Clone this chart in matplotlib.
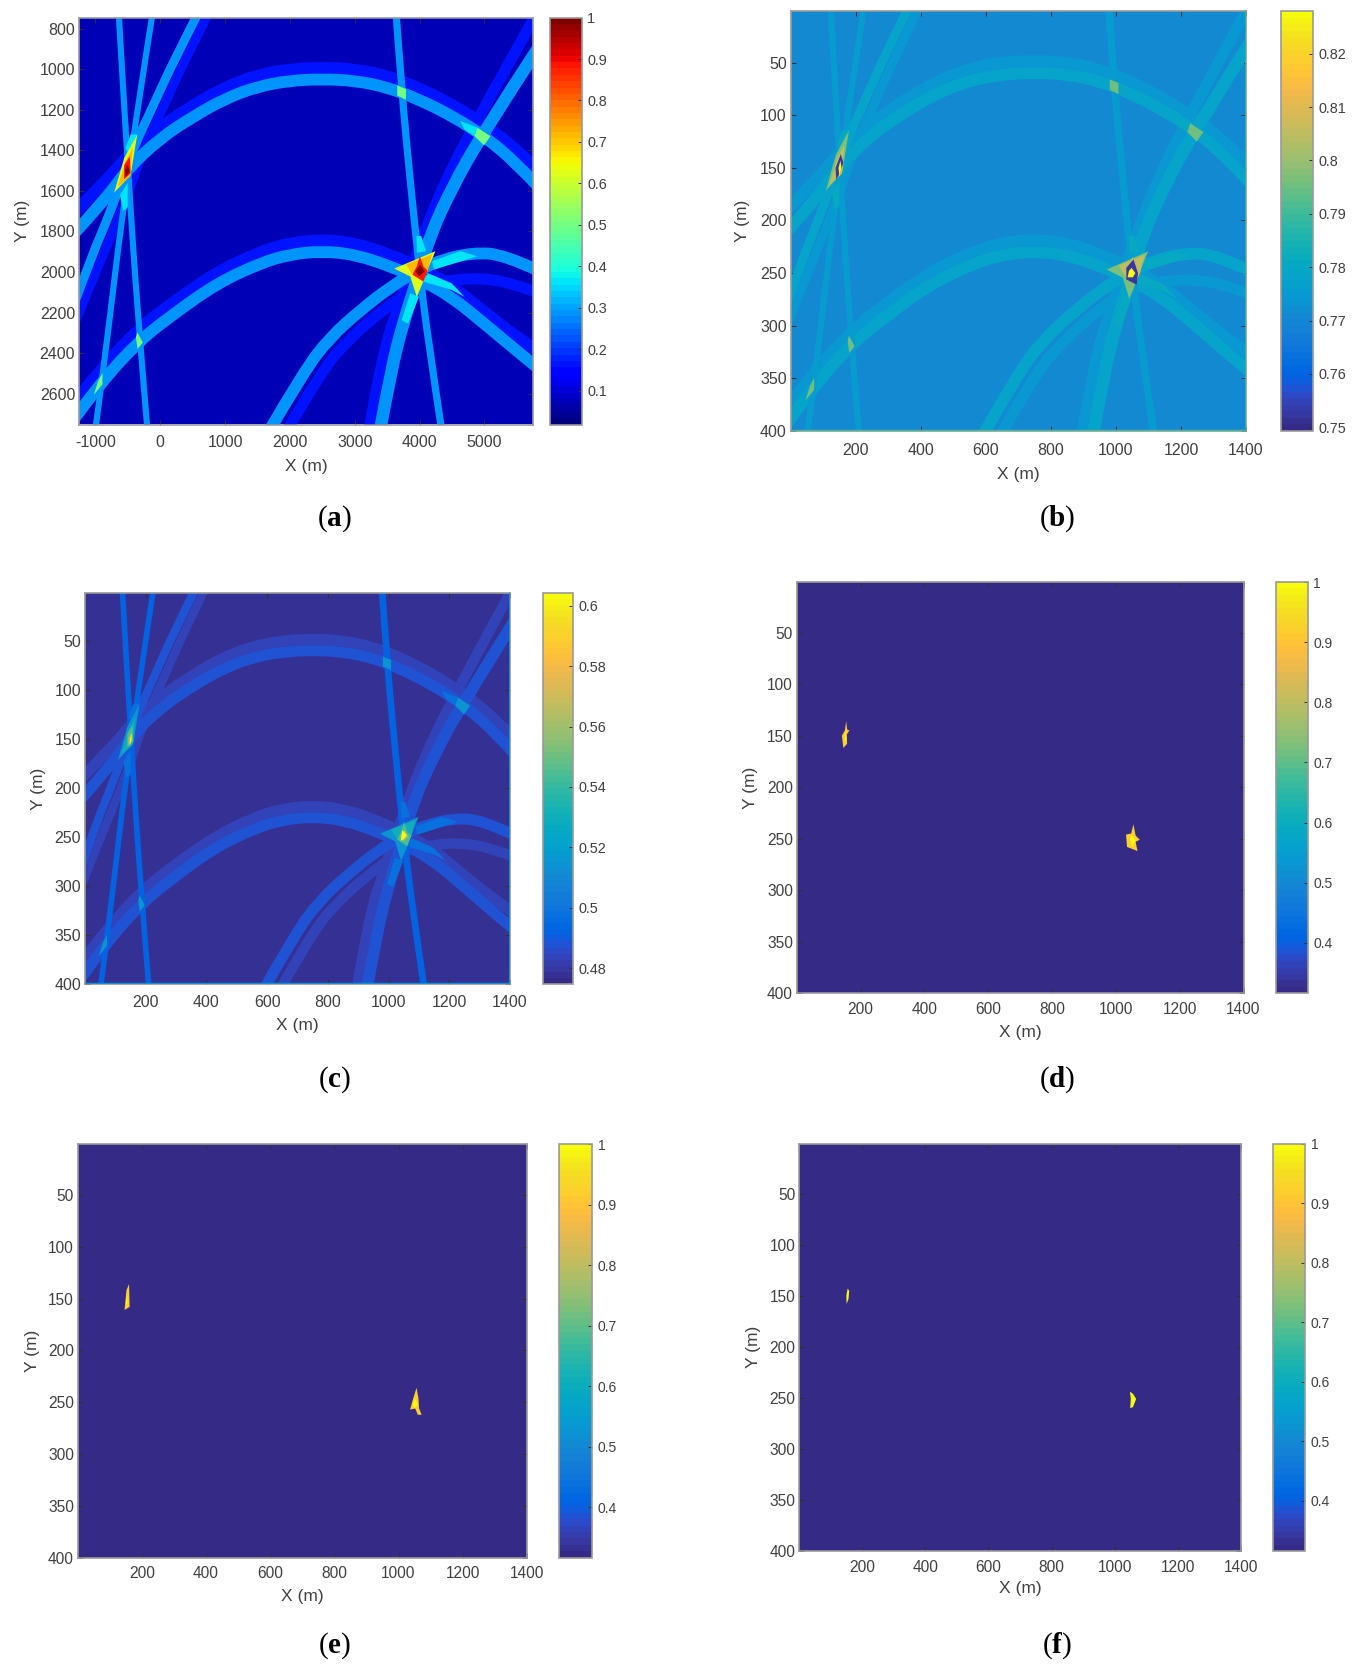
import numpy as np
import matplotlib
matplotlib.use("Agg")
import matplotlib.pyplot as plt
from matplotlib.colors import ListedColormap, Normalize
from matplotlib.path import Path
from matplotlib.patches import PathPatch

plt.rcParams['font.family'] = ['Liberation Sans', 'DejaVu Sans']
plt.rcParams['mathtext.fontset'] = 'custom'
plt.rcParams['mathtext.rm'] = 'Liberation Serif'
plt.rcParams['mathtext.bf'] = 'Liberation Serif:bold'

W, H = 1357, 1675

PARULA = ListedColormap([
    [0.2081,0.1663,0.5292],[0.2116,0.1898,0.5777],[0.2123,0.2138,0.6270],[0.2081,0.2386,0.6771],
    [0.1959,0.2645,0.7279],[0.1707,0.2919,0.7792],[0.1253,0.3242,0.8303],[0.0591,0.3598,0.8683],
    [0.0117,0.3875,0.8820],[0.0060,0.4086,0.8828],[0.0165,0.4266,0.8786],[0.0329,0.4430,0.8720],
    [0.0498,0.4586,0.8641],[0.0629,0.4737,0.8554],[0.0723,0.4887,0.8467],[0.0779,0.5040,0.8384],
    [0.0793,0.5200,0.8312],[0.0749,0.5375,0.8263],[0.0641,0.5570,0.8240],[0.0488,0.5772,0.8228],
    [0.0343,0.5966,0.8199],[0.0265,0.6137,0.8135],[0.0239,0.6287,0.8038],[0.0231,0.6418,0.7913],
    [0.0228,0.6535,0.7768],[0.0267,0.6642,0.7607],[0.0384,0.6743,0.7436],[0.0590,0.6838,0.7254],
    [0.0843,0.6928,0.7062],[0.1133,0.7015,0.6859],[0.1453,0.7098,0.6646],[0.1801,0.7177,0.6424],
    [0.2178,0.7250,0.6193],[0.2586,0.7317,0.5954],[0.3022,0.7376,0.5712],[0.3482,0.7424,0.5473],
    [0.3953,0.7459,0.5244],[0.4420,0.7481,0.5033],[0.4871,0.7491,0.4840],[0.5300,0.7491,0.4661],
    [0.5709,0.7485,0.4494],[0.6099,0.7473,0.4337],[0.6473,0.7456,0.4188],[0.6834,0.7435,0.4044],
    [0.7184,0.7411,0.3905],[0.7525,0.7384,0.3768],[0.7858,0.7356,0.3633],[0.8185,0.7327,0.3498],
    [0.8507,0.7299,0.3360],[0.8824,0.7274,0.3217],[0.9139,0.7258,0.3063],[0.9450,0.7261,0.2886],
    [0.9739,0.7314,0.2666],[0.9938,0.7455,0.2403],[0.9990,0.7653,0.2164],[0.9955,0.7861,0.1967],
    [0.9880,0.8066,0.1794],[0.9789,0.8271,0.1633],[0.9697,0.8481,0.1475],[0.9626,0.8705,0.1309],
    [0.9589,0.8949,0.1132],[0.9598,0.9218,0.0948],[0.9661,0.9514,0.0755],[0.9763,0.9831,0.0538]])
JET = plt.get_cmap('jet', 64)

# band centre lines, in metres (x, y); ends run past the frame
UPPER_ARC = [(-1340,1815),(-800,1625),(-500,1490),(0,1340),(500,1235),(1000,1145),(1500,1085),(2000,1056),
             (2500,1048),(3000,1056),(3500,1088),(4000,1150),(4500,1230),(5000,1330),(5500,1465),(5850,1585)]
UPPER_ARC_DIM = [(-1340,1710),(-800,1540),(-500,1425),(0,1285),(500,1178),(1000,1088),(1500,1028),(2000,999),
                 (2500,991),(3000,999),(3500,1031),(4000,1093),(4500,1173),(5000,1273),(5500,1395),(5850,1505)]
LOWER_ARC = [(-1340,2730),(-922,2547),(-320,2338),(214,2205),(882,2055),(1551,1955),(2000,1913),(2487,1897),
             (3000,1913),(3556,1972),(4000,2035),(4492,2122),(5000,2255),(5495,2388),(5850,2480)]
LOWER_ARC_DIM = [(-1340,2650),(-922,2480),(-320,2275),(214,2145),(882,1998),(1551,1898),(2000,1856),(2487,1840),
                 (3000,1856),(3556,1915),(4000,1978),(4492,2065),(5000,2198),(5495,2320),(5850,2395)]
LEFT_CURVE = [(640,690),(214,955),(-120,1188),(-388,1372),(-520,1488),(-790,1722),(-1056,1922),(-1340,2170)]
LEFT_CURVE_DIM = [(800,690),(381,955),(47,1188),(-221,1372),(-354,1488),(-622,1722),(-889,1922),(-1340,2270)]
RIGHT_CURVE = [(5850,885),(4960,1322),(4492,1588),(4158,1822),(3997,2005),(3757,2238),(3556,2488),(3380,2800)]
RIGHT_CURVE_DIM = [(5850,700),(4960,1205),(4358,1572),(3957,1905),(3690,2155),(3422,2405),(3210,2800)]
BIG_ARC = [(1650,2800),(2219,2488),(2620,2322),(3088,2188),(3556,2072),(3997,1988),(4358,1938),(4826,1905),(5294,1913),(5850,1995)]
BIG_ARC_DIM = [(1920,2800),(2487,2488),(2888,2338),(3422,2188),(3957,2072),(4492,2038),(4960,2030),(5428,2055),(5850,2105)]
LINE_1 = [(-645,690),(-501,1488),(-320,2320),(-190,2800)]
LINE_2 = [(-100,690),(-500,1488),(-890,2530),(-1010,2800)]
LINE_3 = [(3630,690),(3723,1105),(3857,1555),(3997,1988),(4124,2322),(4350,2800)]

MINOR_PATCHES = [
    [(4124,2005),(4492,2055),(4693,2122),(4492,2088),(4057,2047)],
    [(3857,2105),(3991,2122),(3824,2255),(3723,2238)],
    [(3950,1822),(4024,1822),(4100,1897),(3960,1905)],
    [(-620,1620),(-500,1560),(-500,1680),(-570,1700)],
    [(-455,1322),(-354,1322),(-455,1438),(-535,1388)],
    [(4626,1255),(4893,1288),(4846,1330),(4693,1297)],
    [(4191,1947),(4626,1897),(4893,1922),(4225,1988)],
]
SECOND_PATCHES = [
    [(4893,1288),(5094,1330),(4993,1375),(4846,1330)],
    [(3656,1080),(3790,1097),(3790,1150),(3656,1130)],
    [(-354,2297),(-267,2347),(-348,2380),(-374,2322)],
    [(-889,2497),(-889,2555),(-1023,2605),(-956,2538)],
]
RIGHT_HOT = [
    [(3610,1983),(4245,1897),(4124,1988),(4057,2047),(3957,2122),(3857,2022)],
    [(3790,1963),(4191,1913),(4124,1997),(4057,2038),(3890,2013)],
    [(4004,1922),(4057,1972),(4124,1993),(4057,2047),(3890,2013),(3957,1972)],
    [(4011,1963),(4077,1997),(3991,2022),(3937,1997)],
]
LEFT_HOT = [
    [(-354,1322),(-455,1522),(-709,1608),(-555,1438)],
    [(-421,1388),(-468,1530),(-655,1580),(-535,1455)],
    [(-468,1430),(-455,1513),(-555,1543),(-555,1472)],
    [(-501,1472),(-468,1505),(-535,1530),(-541,1497)],
]

# values: background, dim band, bright band, thin line, overlap, crossing, then 4 hot levels
LEVELS_A = [0.065, 0.17, 0.29, 0.28, 0.37, 0.50, 0.62, 0.72, 0.88, 1.00]
LEVELS_B = [0.771, 0.7745, 0.778, 0.776, 0.781, 0.795, 0.797, 0.805, 0.808, 0.81]
LEVELS_C = [0.477, 0.484, 0.488, 0.491, 0.498, 0.515, 0.515, 0.53, 0.545, 0.56]
BG_DEF = 0.318

# blobs in grid cells (x 1..1400, y 1..400)
B_STAR_L = [(154,137),(162,145),(151,155),(140,161),(138,150)]
B_STAR_R = [(1054,237),(1068,250),(1064,261),(1032,256),(1032,245)]
B_CORE_L = [(153,143),(156,150),(150,158),(147,150)]
B_CORE_R = [(1048,245),(1060,250),(1052,254),(1036,254),(1040,248)]
C_CORE_L = [(155,143),(152,152),(146,158),(149,149)]
C_CORE_R = [(1040,254),(1045,243),(1060,248),(1050,252)]
D_BLOB_L = [(155,136),(158,144),(165,145),(157,149),(158,158),(146,162),(142,150),(151,145)]
D_BLOB_R = [(1055,236),(1062,247),(1075,251),(1062,253),(1068,262),(1035,258),(1032,246),(1048,245)]
D_CORE_L = [(154,146),(156,154),(150,156)]
D_CORE_R = [(1050,246),(1062,252),(1052,258),(1044,250)]
E_BLOB_L = [(160,136),(162,158),(146,161),(148,155),(152,142)]
E_BLOB_R = [(1056,236),(1062,246),(1064,256),(1072,262),(1060,262),(1052,256),(1036,257),(1046,246),(1052,240)]
E_CORE_L = [(153,146),(156,154),(150,156)]
E_CORE_R = [(1052,246),(1060,252),(1050,256),(1044,252)]
F_CORE_L = [(154,143),(159,145),(157,153),(151,158),(150,150)]
F_CORE_R = [(1048,244),(1058,246),(1068,251),(1058,259),(1049,260),(1051,251)]

X_TICKS_A = [-1000, 0, 1000, 2000, 3000, 4000, 5000]
Y_TICKS_A = [800, 1000, 1200, 1400, 1600, 1800, 2000, 2200, 2400, 2600]
X_TICKS = [200, 400, 600, 800, 1000, 1200, 1400]
Y_TICKS = [50, 100, 150, 200, 250, 300, 350, 400]
CB_TICKS_A = [0.1, 0.2, 0.3, 0.4, 0.5, 0.6, 0.7, 0.8, 0.9, 1]
CB_TICKS_B = [0.75, 0.76, 0.77, 0.78, 0.79, 0.8, 0.81, 0.82]
CB_TICKS_C = [0.48, 0.5, 0.52, 0.54, 0.56, 0.58, 0.6]
CB_TICKS_DEF = [0.4, 0.5, 0.6, 0.7, 0.8, 0.9, 1]
TEXT = '#404040'


def px_axes(fig, x0, x1, y0, y1):
    return fig.add_axes([x0 / W, 1 - y1 / H, (x1 - x0) / W, (y1 - y0) / H])


def to_grid(pts):
    return [((x + 1250) / 5, (y - 750) / 5) for x, y in pts]


def identity(pts):
    return pts


def curve(pts):
    # quadratic Bezier pieces through the midpoints, the listed points act as controls
    verts = [pts[0]]
    codes = [Path.MOVETO]
    for i in range(1, len(pts) - 1):
        if i == len(pts) - 2:
            end = pts[-1]
        else:
            end = ((pts[i][0] + pts[i + 1][0]) / 2, (pts[i][1] + pts[i + 1][1]) / 2)
        verts += [pts[i], end]
        codes += [Path.CURVE3, Path.CURVE3]
    return Path(verts, codes)


def panel(fig, box, cbox, lims, cmap, vmin, vmax, bg, xticks, yticks, cbticks, ylab_x, xlab_y,
          sizes=(11.5, 10.4), xpad=7):
    ax = px_axes(fig, box[0], box[1], box[2], box[3])
    norm = Normalize(vmin, vmax)
    im = ax.imshow(np.full((2, 2), bg), extent=[lims[0], lims[1], lims[3], lims[2]], cmap=cmap, norm=norm,
                   aspect='auto', interpolation='nearest', zorder=0)
    ax.set_xlim(lims[0], lims[1])
    ax.set_ylim(lims[3], lims[2])
    ax.set_xticks(xticks)
    ax.set_xticklabels([str(t) for t in xticks])
    ax.set_yticks(yticks)
    ax.set_yticklabels([str(t) for t in yticks])
    ax.tick_params(direction='in', length=3.5, width=0.7, top=True, right=True, labelsize=sizes[0],
                   labelcolor=TEXT, color='#303030', pad=3)
    ax.tick_params(axis='x', pad=xpad)
    for s in ax.spines.values():
        s.set_color('#9a9a9a')
        s.set_linewidth(1.2)
    ax.set_xlabel('X (m)', fontsize=12.5, color=TEXT, va='center')
    ax.set_ylabel('Y (m)', fontsize=12.5, color=TEXT, va='center')
    ax.xaxis.set_label_coords(0.5 * (box[0] + box[1]) / W, 1 - xlab_y / H, transform=fig.transFigure)
    ax.yaxis.set_label_coords(ylab_x / W, 1 - 0.5 * (box[2] + box[3]) / H, transform=fig.transFigure)

    cax = px_axes(fig, cbox[0], cbox[1], box[2], box[3])
    cb = fig.colorbar(im, cax=cax, ticks=cbticks)
    cb.ax.set_yticklabels([str(t) for t in cbticks])
    cb.ax.tick_params(direction='in', length=3, width=0.7, labelsize=sizes[1], labelcolor=TEXT, color='#303030', pad=4)
    cb.outline.set_edgecolor('#9a9a9a')
    cb.outline.set_linewidth(1.2)
    return ax, cmap, norm


def draw_bands(ax, cmap, norm, levels, conv, scale):
    bands = [
        (UPPER_ARC_DIM, levels[1], 8.5), (LOWER_ARC_DIM, levels[1], 8.5), (LEFT_CURVE_DIM, levels[1], 6.5),
        (RIGHT_CURVE_DIM, levels[1], 8.0), (BIG_ARC_DIM, levels[1], 8.0),
        (UPPER_ARC, levels[2], 8.5), (LOWER_ARC, levels[2], 8.5), (LEFT_CURVE, levels[2], 6.5),
        (RIGHT_CURVE, levels[2], 9.0), (BIG_ARC, levels[2], 8.5),
        (LINE_1, levels[3], 4.4), (LINE_2, levels[3], 4.4), (LINE_3, levels[3], 5.2),
    ]
    for pts, val, lw in bands:
        ax.add_patch(PathPatch(curve(conv(pts)), fill=False, edgecolor=cmap(norm(val)), lw=lw * scale,
                               capstyle='butt', joinstyle='round', zorder=2))
    for poly in MINOR_PATCHES:
        ax.fill(*zip(*conv(poly)), color=cmap(norm(levels[4])), lw=0, zorder=3)
    for poly in SECOND_PATCHES:
        ax.fill(*zip(*conv(poly)), color=cmap(norm(levels[5])), lw=0, zorder=3)
    for hot in (RIGHT_HOT, LEFT_HOT):
        for poly, val in zip(hot, levels[6:]):
            ax.fill(*zip(*conv(poly)), color=cmap(norm(val)), lw=0, zorder=4)


def blob(ax, cmap, norm, poly, val, z=5):
    ax.fill(*zip(*poly), color=cmap(norm(val)), lw=0, zorder=z)


fig = plt.figure(figsize=(W / 100, H / 100), dpi=100)
GRID = (1, 1400, 1, 400)

# (a)
ax, cm, nm = panel(fig, (79.4, 533.4, 17.6, 424.5), (549.5, 581.6), (-1245, 5755, 745, 2752), JET, 0.018, 1.0,
                   LEVELS_A[0], X_TICKS_A, Y_TICKS_A, CB_TICKS_A, 22.5, 466, xpad=7.6)
draw_bands(ax, cm, nm, LEVELS_A, identity, 1.0)

# (b)
ax, cm, nm = panel(fig, (791, 1246, 11, 431), (1280.6, 1313), GRID, PARULA, 0.7493, 0.828,
                   LEVELS_B[0], X_TICKS, Y_TICKS, CB_TICKS_B, 742.6, 474.5, xpad=8.4)
draw_bands(ax, cm, nm, LEVELS_B, to_grid, 1.0)
for poly in (B_STAR_L, B_STAR_R):
    blob(ax, cm, nm, poly, 0.752)
for poly in (B_CORE_L, B_CORE_R):
    blob(ax, cm, nm, poly, 0.828, 6)
ax.plot([1, 1400], [400, 400], color=cm(nm(0.79)), lw=2.5, zorder=7)
ax.plot([1400, 1400], [1, 400], color=cm(nm(0.785)), lw=2, zorder=7)

# (c)
ax, cm, nm = panel(fig, (85.4, 510, 592.8, 984.2), (542.5, 573.3), GRID, PARULA, 0.4747, 0.6043,
                   LEVELS_C[0], X_TICKS, Y_TICKS, CB_TICKS_C, 38, 1025.5, xpad=7.6)
draw_bands(ax, cm, nm, LEVELS_C, to_grid, 0.93)
for poly in (C_CORE_L, C_CORE_R):
    blob(ax, cm, nm, poly, 0.604, 6)
ax.plot([1, 1400], [400, 400], color=cm(nm(0.515)), lw=2.5, zorder=7)
ax.plot([1400, 1400], [1, 400], color=cm(nm(0.515)), lw=2, zorder=7)

# (d)
ax, cm, nm = panel(fig, (797, 1243.5, 582, 993.3), (1275.5, 1307.8), GRID, PARULA, BG_DEF - 0.002, 1.0,
                   BG_DEF, X_TICKS, Y_TICKS, CB_TICKS_DEF, 751, 1032, (11.2, 10), xpad=6)
for poly in (D_BLOB_L, D_BLOB_R):
    blob(ax, cm, nm, poly, 0.92)
for poly in (D_CORE_L, D_CORE_R):
    blob(ax, cm, nm, poly, 1.0, 6)

# (e)
ax, cm, nm = panel(fig, (78, 526.9, 1144, 1557.9), (558.7, 592), GRID, PARULA, BG_DEF - 0.002, 1.0,
                   BG_DEF, X_TICKS, Y_TICKS, CB_TICKS_DEF, 32, 1596, (11.2, 10), xpad=6)
for poly in (E_BLOB_L, E_BLOB_R):
    blob(ax, cm, nm, poly, 0.92)
for poly in (E_CORE_L, E_CORE_R):
    blob(ax, cm, nm, poly, 1.0, 6)

# (f)
ax, cm, nm = panel(fig, (799.3, 1241, 1143.7, 1551), (1272.8, 1305), GRID, PARULA, BG_DEF - 0.002, 1.0,
                   BG_DEF, X_TICKS, Y_TICKS, CB_TICKS_DEF, 753.6, 1589, (11.2, 10), xpad=6.8)
for poly in (F_CORE_L, F_CORE_R):
    blob(ax, cm, nm, poly, 1.0, 6)

CAPTIONS = ['a', 'b', 'c', 'd', 'e', 'f']
CAP_X = [334.5, 1057, 334.5, 1057, 334.5, 1057]
CAP_Y = [519, 519, 1080, 1080, 1645.5, 1645.5]
for c, x, y in zip(CAPTIONS, CAP_X, CAP_Y):
    fig.text(x / W, 1 - y / H, r'$(\mathbf{%s})$' % c, fontsize=21, ha='center', va='center', color='black')

fig.savefig('out.png', dpi=100)
